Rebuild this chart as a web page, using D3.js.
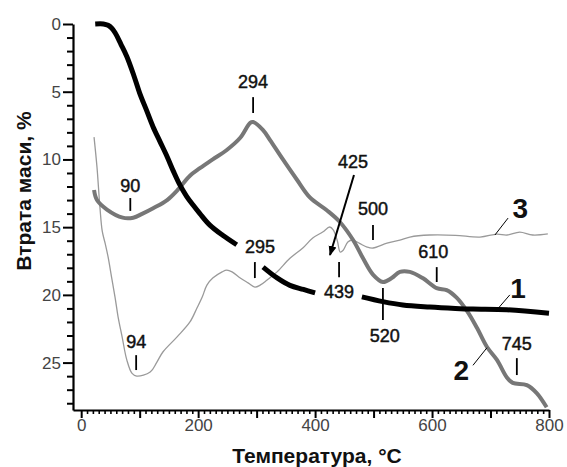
<!DOCTYPE html>
<html><head><meta charset="utf-8">
<script src="https://cdn.jsdelivr.net/npm/d3@7"></script>
<style>body{margin:0;background:#fff} svg{display:block}</style>
</head><body><svg id="c" width="567" height="467"></svg>
<script>
// Curve 1: temperature (°C) and mass loss (%); null = break in the line
const curve1T = [24,38,46,52,58,68,78,90,100,112,123,135,147,158,169,180,191,203,220,242,266,null,311,335,357,380,400,null,480,516,550,596,640,670,728,800];
const curve1V = [0,0,0.1,0.3,0.65,1.5,2.4,3.8,5.1,6.4,7.6,8.7,9.8,10.9,11.9,12.7,13.35,14.0,14.85,15.6,16.3,null,17.95,18.75,19.3,19.6,19.85,null,20.15,20.5,20.75,20.9,21.0,21.05,21.1,21.35];
// Curve 2
const curve2T = [22,27,44,71,89,105,123,147,164,186,203,225,249,272,289,294,311,323,345,369,391,420,442,465,482,499,516,531,545,562,584,608,625,642,660,677,694,711,728,738,762,779,796];
const curve2V = [12.26,13.0,13.7,14.3,14.3,14.0,13.6,13.0,12.3,11.2,10.65,10.0,9.3,8.4,7.3,7.24,7.83,8.57,10.0,11.5,12.8,13.75,14.6,15.95,17.3,18.5,19.05,18.76,18.3,18.3,18.76,19.5,19.65,20.2,21.2,22.45,23.85,24.8,26.1,26.5,26.66,27.25,28.3];
// Curve 3
const curve3T = [22,27,32,36,41,46,52,58,63,70,78,87,95,118,129,140,164,186,198,207,215,225,241,249,258,272,286,297,306,318,335,357,379,396,413,425,431,438,443,448,456,464,476,489,499,523,545,562,596,640,682,711,728,750,772,798];
const curve3V = [8.35,10.56,13.5,15.3,16.2,17.2,18.7,20.2,21.6,23.1,24.8,25.8,26.0,25.7,25.0,24.2,23.1,22.0,20.97,20.16,19.28,18.76,18.3,18.17,18.3,18.76,19.13,19.42,19.28,18.9,18.3,17.3,16.54,15.8,15.36,14.99,15.2,16.0,16.84,16.7,16.1,15.95,16.2,16.47,16.54,16.18,15.95,15.73,15.58,15.6,15.73,15.51,15.58,15.36,15.58,15.5];

const xMajor = [0,100,200,300,400,500,600,700,800];
const xLabelled = [0,200,400,600,800];
const yMajor = [0,5,10,15,20,25];

const peakText = ["90","94","294","295","439","500","610","520","745"];
const peakTempTick = [84,94,294,297,441,499,608,516,745];
const peakTempText = [84,94,294,306,441,499,602,519,745];

const svg = d3.select("#c");
const x = d3.scaleLinear().domain([-14, 800]).range([73, 549]);
const y = d3.scaleLinear().domain([0, 28.5]).range([24, 410]);

const font = "'Liberation Sans', Arial, sans-serif";

// axes
const xMinor = d3.range(0, 801, 10).filter(v => v % 100 !== 0);
svg.append("g").attr("transform", `translate(0,${y(28.5)})`)
  .call(d3.axisBottom(x).tickValues(xMinor).tickSize(4).tickSizeOuter(0).tickFormat(""))
  .call(g => g.select(".domain").remove())
  .call(g => g.selectAll("line").attr("stroke", "#000").attr("stroke-width", 1.6));
svg.append("g").attr("transform", `translate(0,${y(28.5)})`)
  .call(d3.axisBottom(x).tickValues(xMajor).tickSize(8).tickSizeOuter(0)
    .tickFormat(d => xLabelled.includes(d) ? d : ""))
  .call(g => g.select(".domain").attr("stroke", "#000").attr("stroke-width", 2.2))
  .call(g => g.selectAll("line").attr("stroke", "#000").attr("stroke-width", 2))
  .call(g => g.selectAll("text").attr("font-family", font).attr("font-size", 17)
    .attr("fill", "#444").attr("dy", "0.6em"));

const yMinor = d3.range(0, 29, 1).filter(v => v % 5 !== 0);
svg.append("g").attr("transform", `translate(${x(-14)},0)`)
  .call(d3.axisLeft(y).tickValues(yMinor).tickSize(6).tickSizeOuter(0).tickFormat(""))
  .call(g => g.select(".domain").remove())
  .call(g => g.selectAll("line").attr("stroke", "#000").attr("stroke-width", 2));
svg.append("g").attr("transform", `translate(${x(-14)},0)`)
  .call(d3.axisLeft(y).tickValues(yMajor).tickSize(10).tickSizeOuter(0).tickPadding(2))
  .call(g => g.select(".domain").attr("stroke", "#000").attr("stroke-width", 2.2))
  .call(g => g.selectAll("line").attr("stroke", "#000").attr("stroke-width", 2))
  .call(g => g.selectAll("text").attr("font-family", font).attr("font-size", 17).attr("fill", "#444"));

// axis titles
svg.append("text").attr("x", 317).attr("y", 463).attr("text-anchor", "middle")
  .attr("font-family", font).attr("font-weight", "bold").attr("font-size", 21)
  .attr("fill", "#111").text("Температура, °C");
svg.append("text").attr("transform", "translate(31,191) rotate(-90)").attr("text-anchor", "middle")
  .attr("font-family", font).attr("font-weight", "bold").attr("font-size", 21)
  .attr("fill", "#111").text("Втрата маси, %");

// curves
const mk = (T, V) => T.map((t, i) => t === null ? null : [t, V[i]]);
const line = d3.line().defined(d => d !== null).x(d => x(d[0])).y(d => y(d[1]))
  .curve(d3.curveCatmullRom.alpha(0.5));
svg.append("path").attr("d", line(mk(curve3T, curve3V))).attr("fill", "none")
  .attr("stroke", "#9a9a9a").attr("stroke-width", 1.3);
svg.append("path").attr("d", line(mk(curve2T, curve2V))).attr("fill", "none")
  .attr("stroke", "#777").attr("stroke-width", 4).attr("stroke-linejoin", "round");
svg.append("path").attr("d", line(mk(curve1T, curve1V))).attr("fill", "none")
  .attr("stroke", "#000").attr("stroke-width", 5);

// peak labels (values in data units)
const peakTextY = [12.4, 23.9, 4.73, 16.9, 20.24, 14.1, 17.3, 23.5, 24.1];
const peakTickY = [[12.85,13.8],[24.45,25.55],[5.4,6.57],[17.58,18.76],[17.58,18.7],[14.84,15.95],[17.95,19.05],[19.5,21.86],[24.67,25.92]];
const lblFont = 18;
const lbl = sel => sel.attr("text-anchor", "middle").attr("font-family", font).attr("font-size", lblFont)
  .attr("fill", "#111").attr("stroke", "#111").attr("stroke-width", 0.45);
peakText.forEach((t, i) => {
  svg.append("line").attr("x1", x(peakTempTick[i])).attr("x2", x(peakTempTick[i]))
    .attr("y1", y(peakTickY[i][0])).attr("y2", y(peakTickY[i][1]))
    .attr("stroke", "#000").attr("stroke-width", 1.8);
  svg.append("text").attr("x", x(peakTempText[i])).attr("y", y(peakTextY[i])).call(lbl).text(t);
});

// 425 arrow
svg.append("defs").append("marker").attr("id", "ah").attr("viewBox", "0 0 10 10")
  .attr("refX", 9).attr("refY", 5).attr("markerWidth", 5).attr("markerHeight", 5)
  .attr("orient", "auto").append("path").attr("d", "M0,1 L10,5 L0,9 Z").attr("fill", "#000");
svg.append("text").attr("x", x(465)).attr("y", y(10.63)).call(lbl).text("425");
svg.append("line").attr("x1", x(466.5)).attr("y1", y(11.15)).attr("x2", x(425.5)).attr("y2", y(17.06))
  .attr("stroke", "#000").attr("stroke-width", 2).attr("marker-end", "url(#ah)");

// curve numbers
const curveNames = ["1", "2", "3"];
const nameT = [747, 650, 751];
const nameV = [20.24, 26.3, 14.33];
const leadT = [[733, 711], [670, 694], [730, 707.5]];
const leadV = [[20.0, 21.1], [25.2, 23.9], [14.33, 15.58]];
curveNames.forEach((n, i) => {
  svg.append("line").attr("x1", x(leadT[i][0])).attr("y1", y(leadV[i][0]))
    .attr("x2", x(leadT[i][1])).attr("y2", y(leadV[i][1])).attr("stroke", "#000").attr("stroke-width", 1);
  svg.append("text").attr("x", x(nameT[i])).attr("y", y(nameV[i])).attr("text-anchor", "middle")
    .attr("font-family", font).attr("font-weight", "bold").attr("font-size", 28)
    .attr("fill", "#111").text(n);
});
</script></body></html>
